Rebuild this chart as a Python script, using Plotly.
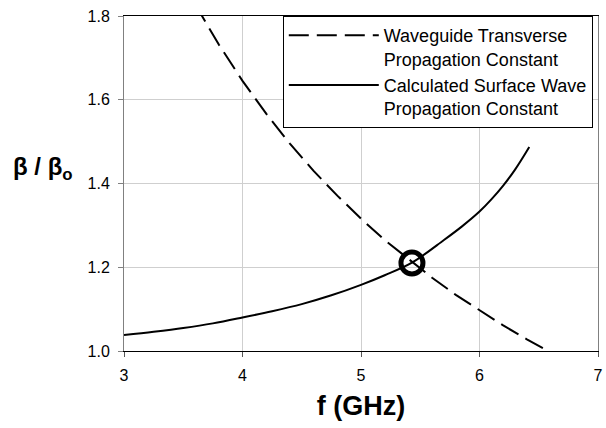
import plotly.graph_objects as go

# Waveguide transverse propagation constant (dashed)
wg_f = [3.60, 3.80, 4.00, 4.20, 4.40, 4.60, 4.80, 5.00, 5.20, 5.40, 5.60, 5.80, 6.00, 6.20, 6.40, 6.58]
wg_beta = [1.828, 1.732, 1.645, 1.567, 1.495, 1.430, 1.371, 1.316, 1.265, 1.219, 1.175, 1.134, 1.097, 1.061, 1.028, 1.000]

# Calculated surface wave propagation constant (solid)
sw_f = [3.00, 3.25, 3.50, 3.75, 4.00, 4.25, 4.50, 4.75, 5.00, 5.20, 5.43, 5.70, 5.85, 6.00, 6.10, 6.20, 6.30, 6.42]
sw_beta = [1.038, 1.046, 1.055, 1.066, 1.080, 1.095, 1.112, 1.133, 1.158, 1.181, 1.211, 1.265, 1.297, 1.333, 1.362, 1.395, 1.433, 1.487]

# Intersection marker
cross_f = [5.43]
cross_beta = [1.21]

x_ticks = [3, 4, 5, 6, 7]
y_ticks = [1.0, 1.2, 1.4, 1.6, 1.8]
y_tick_labels = ["1.0", "1.2", "1.4", "1.6", "1.8"]

FONT = "Liberation Sans, Arial, sans-serif"

fig = go.Figure()
fig.add_trace(go.Scatter(
    x=wg_f, y=wg_beta, mode="lines",
    name="Waveguide Transverse<br>Propagation Constant",
    line=dict(color="black", width=2, dash="20px,8px"),
))
fig.add_trace(go.Scatter(
    x=sw_f, y=sw_beta, mode="lines", line_shape="spline",
    name="Calculated Surface Wave<br>Propagation Constant",
    line=dict(color="black", width=2),
))
fig.add_trace(go.Scatter(
    x=cross_f, y=cross_beta, mode="markers", showlegend=False,
    marker=dict(symbol="circle-open", size=22, color="black",
                line=dict(color="black", width=5)),
))

fig.update_layout(
    width=606, height=428,
    margin=dict(l=124, r=3, t=16, b=77),
    paper_bgcolor="white", plot_bgcolor="white",
    font=dict(family=FONT, color="black", size=16),
    legend=dict(
        x=0.335, y=1, xanchor="left", yanchor="top",
        bgcolor="white", bordercolor="black", borderwidth=1,
        font=dict(family=FONT, size=18, color="black"),
        valign="top", itemwidth=90, tracegroupgap=0,
    ),
    xaxis=dict(
        range=[3, 7], tickvals=x_ticks,
        showgrid=True, gridcolor="#cfcfcf", gridwidth=1,
        showline=True, linecolor="black", linewidth=1, mirror=True,
        ticks="outside", ticklen=5, tickcolor="#555555",
        tickfont=dict(size=16), ticklabelstandoff=5,
        ticklabeloverflow="allow",
        zeroline=False,
        title=dict(text="<b>f (GHz)</b>", font=dict(size=27), standoff=12),
    ),
    yaxis=dict(
        range=[1.0, 1.8], tickvals=y_ticks, ticktext=y_tick_labels,
        showgrid=True, gridcolor="#cfcfcf", gridwidth=1,
        showline=True, linecolor="#808080", linewidth=1, mirror=True,
        ticks="outside", ticklen=5, tickcolor="#808080",
        tickfont=dict(size=16), ticklabelstandoff=5,
        zeroline=False,
    ),
    annotations=[dict(
        text="<b>β / β<sub>o</sub></b>",
        xref="paper", yref="paper", x=-0.171, y=0.545,
        xanchor="center", yanchor="middle", showarrow=False,
        font=dict(family=FONT, size=24, color="black"),
    )],
)

fig.write_html("out.html", config={"displayModeBar": False},
               post_script="document.body.style.margin='0px';")
